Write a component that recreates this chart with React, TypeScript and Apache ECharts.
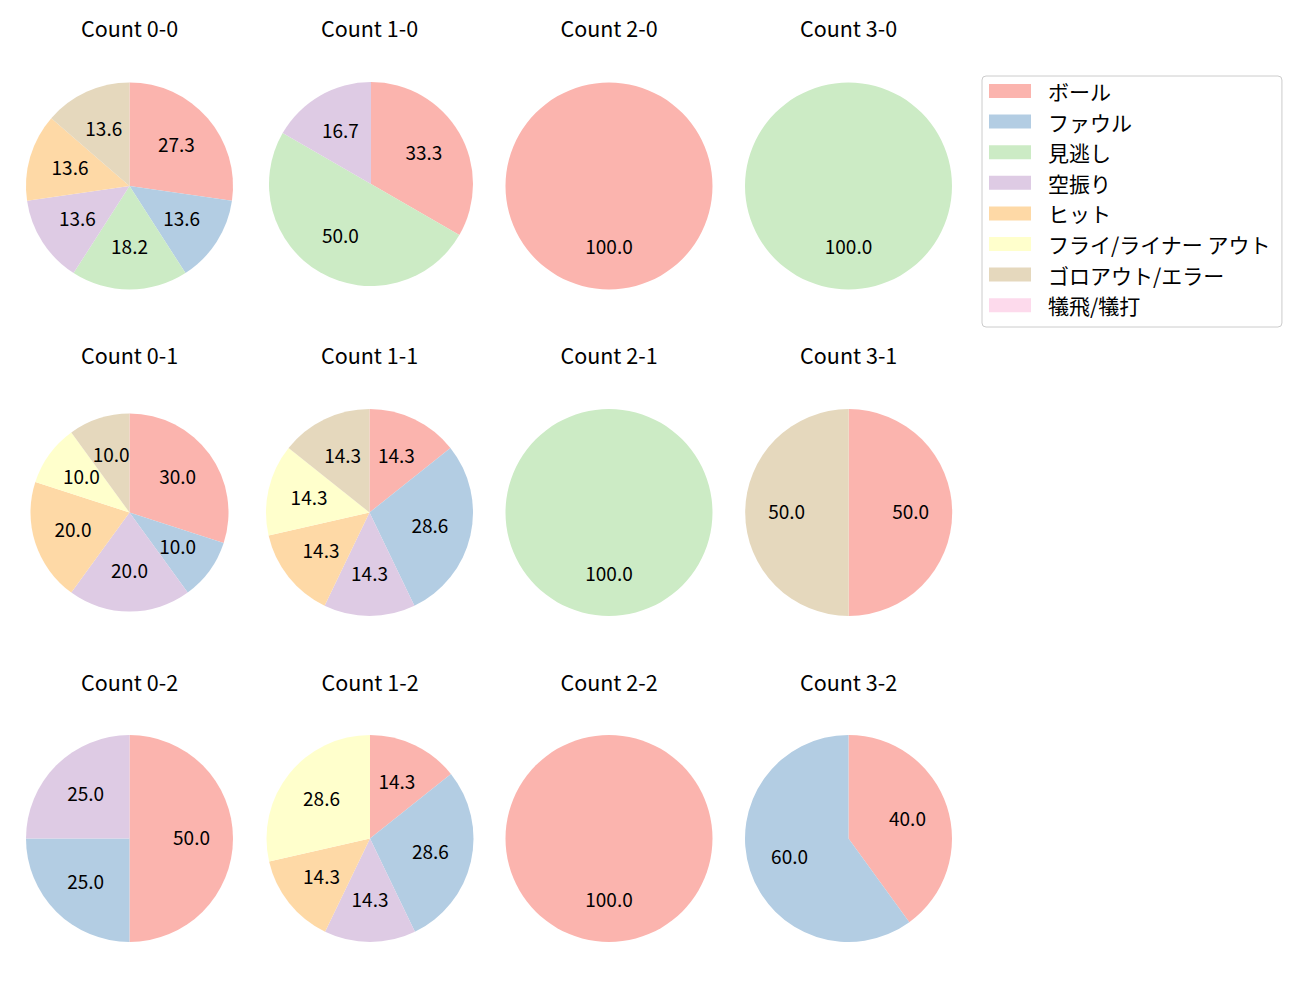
import React, { useEffect, useRef } from "react";
import * as echarts from "echarts";

const categories = ["ボール", "ファウル", "見逃し", "空振り", "ヒット", "フライ/ライナー アウト", "ゴロアウト/エラー", "犠飛/犠打"];
const colors = ["#fbb4ae", "#b3cde3", "#ccebc5", "#decbe4", "#fed9a6", "#ffffcc", "#e5d8bd", "#fddaec"];

const titles = [
  "Count 0-0", "Count 1-0", "Count 2-0", "Count 3-0",
  "Count 0-1", "Count 1-1", "Count 2-1", "Count 3-1",
  "Count 0-2", "Count 1-2", "Count 2-2", "Count 3-2",
];

// pitch counts per category (same order as categories)
const count00 = [6, 3, 4, 3, 3, 0, 3, 0];
const count10 = [2, 0, 3, 1, 0, 0, 0, 0];
const count20 = [1, 0, 0, 0, 0, 0, 0, 0];
const count30 = [0, 0, 1, 0, 0, 0, 0, 0];
const count01 = [3, 1, 0, 2, 2, 1, 1, 0];
const count11 = [1, 2, 0, 1, 1, 1, 1, 0];
const count21 = [0, 0, 1, 0, 0, 0, 0, 0];
const count31 = [1, 0, 0, 0, 0, 0, 1, 0];
const count02 = [2, 1, 0, 1, 0, 0, 0, 0];
const count12 = [1, 2, 0, 1, 1, 2, 0, 0];
const count22 = [1, 0, 0, 0, 0, 0, 0, 0];
const count32 = [2, 3, 0, 0, 0, 0, 0, 0];

const allCounts = [count00, count10, count20, count30, count01, count11, count21, count31, count02, count12, count22, count32];

// layout (pixel centres / radii)
const centers: [number, number][] = [
  [129.5, 186], [371, 184], [609, 186], [848.5, 186],
  [129.5, 512.5], [369.5, 512.5], [609, 512.5], [848.7, 512.5],
  [129.5, 838.5], [370, 838.5], [609, 838.5], [848.5, 838.5],
];
const radii = [103.5, 102, 103.5, 103.5, 99, 103.5, 103.5, 103.5, 103.5, 103.5, 103.5, 103.5];
const titleTops = [16, 343, 670];

const FONT = "'Noto Sans CJK JP', 'Noto Sans', sans-serif";

export default function App() {
  const ref = useRef<HTMLDivElement>(null);
  useEffect(() => {
    if (!ref.current) return;
    const chart = echarts.init(ref.current, undefined, { renderer: "svg" });
    const series: any[] = [];
    const labelSeries: any[] = [];
    allCounts.forEach((counts, i) => {
      const data = counts.map((v, k) => ({
        name: categories[k],
        value: v,
        itemStyle: { color: colors[k] },
      }));
      const r = radii[i];
      series.push({
        type: "pie",
        center: centers[i],
        radius: [0, r],
        startAngle: 90,
        clockwise: true,
        data,
        label: { show: false },
        labelLine: { show: false },
        silent: true,
        emphasis: { disabled: true },
        itemStyle: { borderWidth: 0 },
      });
      labelSeries.push({
        type: "pie",
        center: centers[i],
        radius: [r * 0.14, r],
        startAngle: 90,
        clockwise: true,
        data: counts.map((v, k) => ({ name: categories[k], value: v })),
        itemStyle: { color: "rgba(0,0,0,0)", borderWidth: 0 },
        label: {
          show: true,
          position: "inside",
          color: "#000",
          fontSize: 19,
          fontFamily: FONT,
          offset: [0, -2],
          formatter: (p: any) => (p.value > 0 ? p.percent.toFixed(1) : ""),
        },
        labelLine: { show: false },
        silent: true,
        emphasis: { disabled: true },
        legendHoverLink: false,
      });
    });
    const title = titles.map((t, i) => ({
      text: t,
      left: centers[i][0] - (i === 1 ? 1.5 : 0),
      top: titleTops[Math.floor(i / 4)],
      textAlign: "center",
      padding: 0,
      textStyle: { fontSize: 21.5, fontWeight: "normal", color: "#000", fontFamily: FONT, lineHeight: 22 },
    }));
    chart.setOption({
      animation: false,
      backgroundColor: "#fff",
      title,
      legend: {
        orient: "vertical",
        left: 982,
        top: 76,
        padding: [4.5, 11, 11.3, 7],
        borderColor: "#cccccc",
        borderWidth: 1,
        borderRadius: 4,
        itemWidth: 42,
        itemHeight: 14,
        itemGap: 9.6,
        icon: "rect",
        selectedMode: false,
        data: categories.map((c, k) => ({ name: c, itemStyle: { color: colors[k] } })),
        textStyle: { fontSize: 21, color: "#000", fontFamily: FONT, lineHeight: 21, padding: [0, 0, 0, 12] },
      },
      series: [...series, ...labelSeries],
    });
    return () => chart.dispose();
  }, []);
  return <div ref={ref} style={{ position: "absolute", left: 0, top: 0, width: 1300, height: 1000 }} />;
}
